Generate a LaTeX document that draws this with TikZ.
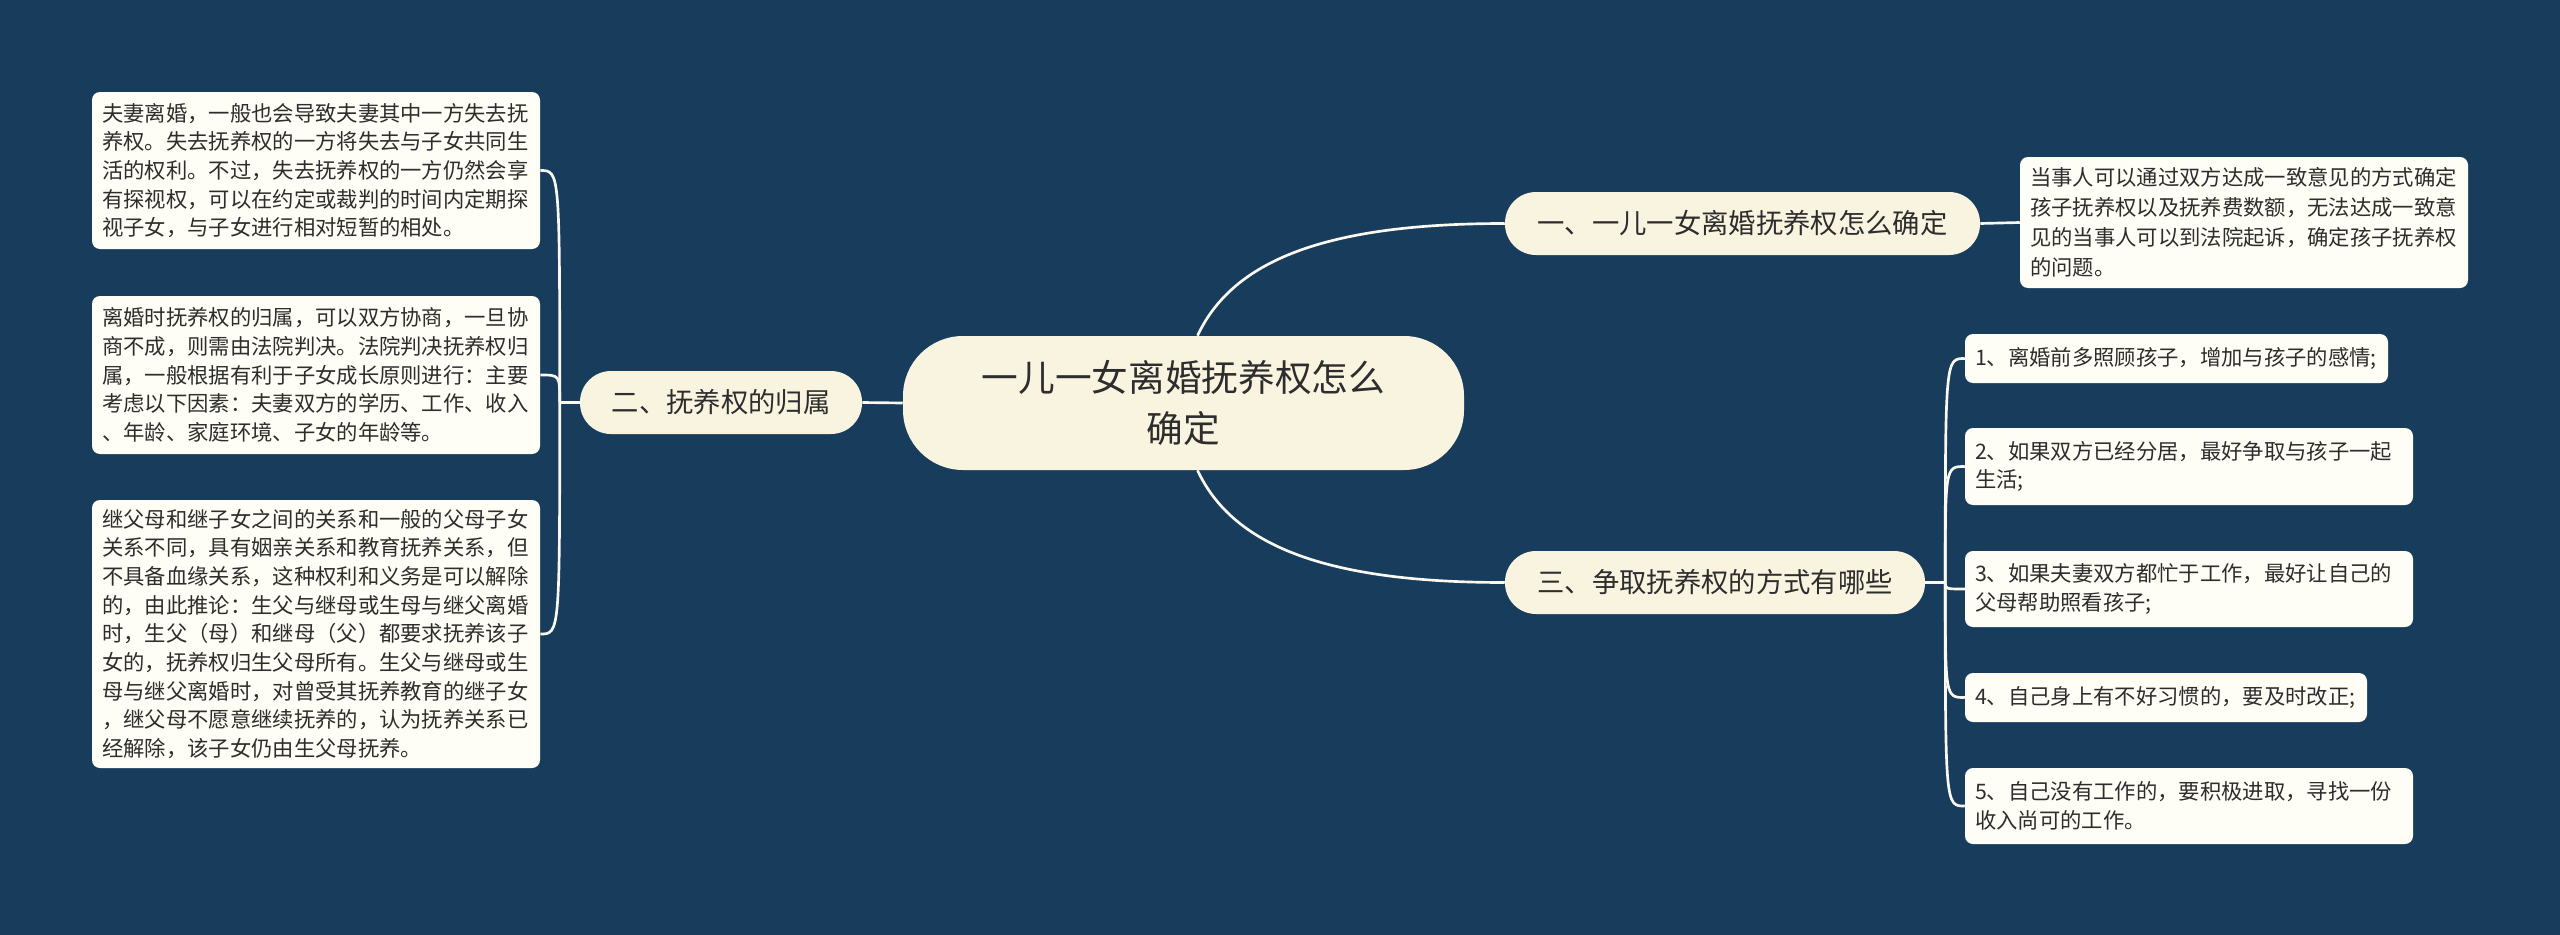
\documentclass[tikz,border=0pt]{standalone}
\usepackage{fontspec}
\setmainfont{Noto Sans CJK SC}
\usetikzlibrary{calc}

\definecolor{bgblue}{RGB}{24,61,92}
\definecolor{cream}{RGB}{249,244,224}
\definecolor{paper}{RGB}{254,253,246}
\definecolor{inkgray}{RGB}{45,45,45}
\definecolor{linkwhite}{RGB}{250,248,240}

\newdimen\pxu \pxu=0.75pt

\begin{document}
\begin{tikzpicture}[x=0.75pt, y=-0.75pt,
    rootnode/.style={fill=cream, rounded corners=60\pxu, align=center, text=inkgray,
      minimum width=561\pxu, minimum height=134\pxu, inner sep=0pt,
      font=\fontsize{27.5}{38}\selectfont},
    branch/.style={fill=cream, rounded corners=31\pxu, text=inkgray,
      minimum height=63\pxu, inner sep=0pt, font=\fontsize{20.5}{24}\selectfont},
    leafbox/.style={fill=paper, rounded corners=8\pxu, align=left, text=inkgray,
      inner xsep=10\pxu, inner ysep=0pt, font=\fontsize{16}{21.5}\selectfont},
    link/.style={draw=linkwhite, line width=2pt}]

  % page and background
  \useasboundingbox (0,0) rectangle (2560,935);
  \fill[bgblue] (0,0) rectangle (2560,935);

  % centre topic
  \node[rootnode] (root) at (1183.5,403) {一儿一女离婚抚养权怎么\\确定};

  % main branches
  \node[branch, minimum width=475\pxu] (b1) at (1742.5,223.5) {一、一儿一女离婚抚养权怎么确定};
  \node[branch, minimum width=282\pxu] (b2) at (721,402.5) {二、抚养权的归属};
  \node[branch, minimum width=420\pxu] (b3) at (1715,582.5) {三、争取抚养权的方式有哪些};

  % leaves of branch one
  \node[leafbox, text width=428\pxu, minimum height=131\pxu, font=\fontsize{16}{22.5}\selectfont] (r1) at (2244,222.5)
    {当事人可以通过双方达成一致意见的方式确定\\孩子抚养权以及抚养费数额，无法达成一致意\\见的当事人可以到法院起诉，确定孩子抚养权\\的问题。};

  % leaves of branch two
  \node[leafbox, text width=428\pxu, minimum height=157\pxu] (ta) at (316,170.5)
    {夫妻离婚，一般也会导致夫妻其中一方失去抚\\养权。失去抚养权的一方将失去与子女共同生\\活的权利。不过，失去抚养权的一方仍然会享\\有探视权，可以在约定或裁判的时间内定期探\\视子女，与子女进行相对短暂的相处。};
  \node[leafbox, text width=428\pxu, minimum height=158\pxu] (tb) at (316,375)
    {离婚时抚养权的归属，可以双方协商，一旦协\\商不成，则需由法院判决。法院判决抚养权归\\属，一般根据有利于子女成长原则进行：主要\\考虑以下因素：夫妻双方的学历、工作、收入\\、年龄、家庭环境、子女的年龄等。};
  \node[leafbox, text width=428\pxu, minimum height=268\pxu] (tc) at (316,634)
    {继父母和继子女之间的关系和一般的父母子女\\关系不同，具有姻亲关系和教育抚养关系，但\\不具备血缘关系，这种权利和义务是可以解除\\的，由此推论：生父与继母或生母与继父离婚\\时，生父（母）和继母（父）都要求抚养该子\\女的，抚养权归生父母所有。生父与继母或生\\母与继父离婚时，对曾受其抚养教育的继子女\\，继父母不愿意继续抚养的，认为抚养关系已\\经解除，该子女仍由生父母抚养。};

  % leaves of branch three
  \node[leafbox, text width=403\pxu, minimum height=49\pxu] (s1) at (2176.5,358.5) {1、离婚前多照顾孩子，增加与孩子的感情;};
  \node[leafbox, text width=428\pxu, minimum height=77\pxu] (s2) at (2189,466.5) {2、如果双方已经分居，最好争取与孩子一起\\生活;};
  \node[leafbox, text width=428\pxu, minimum height=76\pxu] (s3) at (2189,589) {3、如果夫妻双方都忙于工作，最好让自己的\\父母帮助照看孩子;};
  \node[leafbox, text width=382\pxu, minimum height=49\pxu] (s4) at (2166,697.5) {4、自己身上有不好习惯的，要及时改正;};
  \node[leafbox, text width=428\pxu, minimum height=76\pxu] (s5) at (2189,806) {5、自己没有工作的，要积极进取，寻找一份\\收入尚可的工作。};

  % connectors from the centre
  \draw[link] ($(root.north)+(14,0)$) .. controls +(35,-75) and +(-180,0) .. (b1.west);
  \draw[link] ($(root.south)+(14,0)$) .. controls +(35,75) and +(-180,0) .. (b3.west);
  \draw[link] (root.west) -- (b2.east);
  \draw[link] (b1.east) -- (r1.west);

  % brackets to the leaves
  \coordinate (jl) at ($(b2.west)+(-20,0)$);
  \coordinate (jr) at ($(b3.east)+(20,0)$);
  \draw[link] (b2.west) -- (jl);
  \draw[link] (b3.east) -- (jr);
  \foreach \b in {ta,tb,tc}
    \draw[link] (jl) .. controls (jl |- \b.east) .. (\b.east);
  \foreach \b in {s1,s2,s3,s4,s5}
    \draw[link] (jr) .. controls (jr |- \b.west) .. (\b.west);
\end{tikzpicture}
\end{document}
